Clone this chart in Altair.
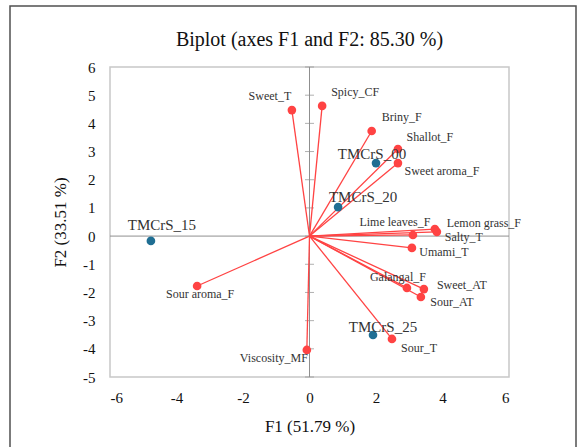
import altair as alt
import pandas as pd

# ---- data ----
var_names = ["Sweet_T", "Spicy_CF", "Briny_F", "Shallot_F", "Sweet aroma_F",
             "Lime leaves_F", "Lemon grass_F", "Salty_T", "Umami_T", "Galangal_F",
             "Sweet_AT", "Sour_AT", "Sour_T", "Viscosity_MF", "Sour aroma_F"]
var_f1 = [-0.53, 0.38, 1.87, 2.66, 2.66, 3.11, 3.77, 3.83, 3.08, 2.93, 3.44, 3.35, 2.48, -0.08, -3.38]
var_f2 = [4.47, 4.62, 3.73, 3.09, 2.59, 0.04, 0.25, 0.15, -0.42, -1.84, -1.88, -2.16, -3.65, -4.04, -1.77]

obs_names = ["TMCrS_00", "TMCrS_20", "TMCrS_15", "TMCrS_25"]
obs_f1 = [2.00, 0.86, -4.77, 1.91]
obs_f2 = [2.59, 1.03, -0.17, -3.51]

x_ticks = [-6, -4, -2, 0, 2, 4, 6]
y_ticks = [-5, -4, -3, -2, -1, 0, 1, 2, 3, 4, 5, 6]

chart_title = "Biplot (axes F1 and F2: 85.30 %)"

# ---- label placement (pixel offsets from each point) ----
label_offsets = {
    "Sweet_T": (-22, -14), "Spicy_CF": (33, -14), "Briny_F": (30, -14),
    "Shallot_F": (32, -12), "Sweet aroma_F": (44, 8), "Lime leaves_F": (-18, -13),
    "Lemon grass_F": (49, -6), "Salty_T": (27, 5), "Umami_T": (32, 4),
    "Galangal_F": (-9, -11), "Sweet_AT": (38, -4), "Sour_AT": (31, 5),
    "Sour_T": (27, 9), "Viscosity_MF": (-33, 8), "Sour aroma_F": (3, 8),
    "TMCrS_00": (-4, -9), "TMCrS_20": (25, -10), "TMCrS_15": (11, -16),
    "TMCrS_25": (10, -8),
}

RED = "#FF4343"
BLUE = "#1F6E93"
AXGRAY = "#8f8f8f"
FONT = "Liberation Serif"

var_df = pd.DataFrame({"name": var_names, "f1": var_f1, "f2": var_f2,
                       "o1": [0.0] * len(var_names), "o2": [0.0] * len(var_names)})
obs_df = pd.DataFrame({"name": obs_names, "f1": obs_f1, "f2": obs_f2})
zero_df = pd.DataFrame({"f1": [-6, 0], "f2": [0, -5], "e1": [6, 0], "e2": [0, 6]})
tick_df = pd.DataFrame({"f1": [0] * len(y_ticks), "f2": y_ticks})

xs = alt.Scale(domain=[-6, 6], nice=False, zero=False)
ys = alt.Scale(domain=[-5, 6], nice=False, zero=False)
xaxis = alt.Axis(values=x_ticks, grid=False, ticks=False, domain=False,
                 labelPadding=13, titlePadding=13, labelExpr="datum.value + ''")
yaxis = alt.Axis(values=y_ticks, grid=False, ticks=False, domain=False,
                 labelPadding=15, titlePadding=13, labelExpr="datum.value + ''")


def X(field):
    return alt.X(field, type="quantitative", scale=xs, axis=xaxis, title="F1 (51.79 %)")


def Y(field):
    return alt.Y(field, type="quantitative", scale=ys, axis=yaxis, title="F2 (33.51 %)")


one_row = pd.DataFrame({"t": [chart_title]})

border = alt.Chart(one_row).mark_rect(
    fillOpacity=0, stroke="#505050", strokeWidth=1.5
).encode(x=alt.value(-100), x2=alt.value(466), y=alt.value(-61), y2=alt.value(420))

title_text = alt.Chart(one_row).mark_text(
    font=FONT, fontSize=20, color="#111111", align="center", baseline="middle"
).encode(x=alt.value(199.5), y=alt.value(-27), text="t")

zero_lines = alt.Chart(zero_df).mark_rule(color=AXGRAY, strokeWidth=1).encode(
    x=X("f1"), y=Y("f2"), x2="e1", y2="e2")

ticks = alt.Chart(tick_df).mark_tick(orient="horizontal", size=9, thickness=1,
                                      color=AXGRAY).encode(x=X("f1"), y=Y("f2"))

vectors = alt.Chart(var_df).mark_rule(color=RED, strokeWidth=1.3).encode(
    x=X("o1"), y=Y("o2"), x2="f1", y2="f2")

var_pts = alt.Chart(var_df).mark_circle(size=75, color=RED, opacity=1).encode(
    x=X("f1"), y=Y("f2"))
obs_pts = alt.Chart(obs_df).mark_circle(size=75, color=BLUE, opacity=1).encode(
    x=X("f1"), y=Y("f2"))

layers = [border, title_text, zero_lines, ticks, vectors, var_pts, obs_pts]

for df, size in ((var_df, 12), (obs_df, 15)):
    for name in df["name"]:
        dx, dy = label_offsets[name]
        sub = df[df["name"] == name][["name", "f1", "f2"]]
        layers.append(
            alt.Chart(sub).mark_text(font=FONT, fontSize=size, color="#333333",
                                     align="center", baseline="middle", dx=dx, dy=dy)
            .encode(x=X("f1"), y=Y("f2"), text="name")
        )

chart = alt.layer(*layers).properties(
    width=399, height=310,
    autosize=alt.AutoSizeParams(type="none"),
    padding={"left": 110, "top": 67, "right": 69, "bottom": 70},
    background="white",
).configure_view(
    stroke="#c8c8c8", strokeWidth=1.5
).configure_axis(
    labelFont=FONT, labelFontSize=15, labelColor="#111111",
    titleFont=FONT, titleFontSize=17, titleFontWeight="normal", titleColor="#111111",
)

chart.save("out.html", embed_options={"renderer": "svg", "actions": False})
